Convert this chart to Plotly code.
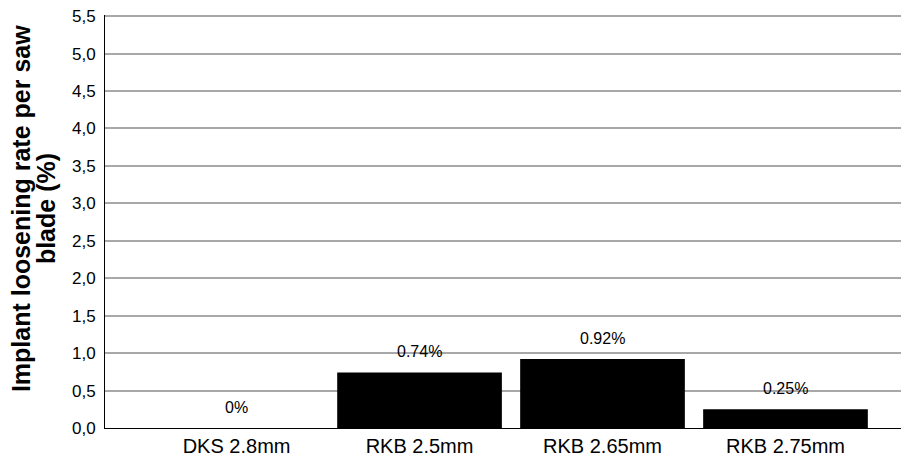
import plotly.graph_objects as go

categories = ["DKS 2.8mm", "RKB 2.5mm", "RKB 2.65mm", "RKB 2.75mm"]
values = [0.0, 0.74, 0.92, 0.25]
value_labels = ["0%", "0.74%", "0.92%", "0.25%"]
y_tickvals = [0.0, 0.5, 1.0, 1.5, 2.0, 2.5, 3.0, 3.5, 4.0, 4.5, 5.0, 5.5]
y_ticktext = ["0,0", "0,5", "1,0", "1,5", "2,0", "2,5", "3,0", "3,5", "4,0", "4,5", "5,0", "5,5"]
title_lines = ["Implant loosening rate per saw", "blade (%)"]

FONT = "Liberation Sans, Arial, sans-serif"

fig = go.Figure()
fig.add_trace(go.Bar(x=list(range(len(categories))), y=values,
                     marker=dict(color="black", line=dict(width=0)),
                     width=0.9, showlegend=False, hoverinfo="skip"))

for i, (v, t) in enumerate(zip(values, value_labels)):
    fig.add_annotation(x=i, y=v, text=t, showarrow=False, yshift=21,
                       xanchor="center", yanchor="middle",
                       font=dict(size=16, color="black", family=FONT),
                       xref="x", yref="y")

for line, xs in zip(title_lines, [-84, -59]):
    fig.add_annotation(x=0, y=0.53, xref="paper", yref="paper", text="<b>" + line + "</b>",
                       textangle=-90, showarrow=False, xshift=xs,
                       xanchor="center", yanchor="middle",
                       font=dict(size=25, color="black", family=FONT))

fig.update_layout(
    width=909, height=456,
    margin=dict(l=97, r=8, t=7, b=36),
    paper_bgcolor="white", plot_bgcolor="white",
    font=dict(family=FONT, color="black"),
    xaxis=dict(range=[-0.719, 3.675], tickmode="array",
               tickvals=list(range(len(categories))), ticktext=categories,
               showgrid=False, zeroline=False, showline=True, linecolor="black",
               linewidth=1, ticks="", automargin=False,
               tickfont=dict(size=20, color="black")),
    yaxis=dict(range=[0, 5.515], tickmode="array", tickvals=y_tickvals, ticktext=y_ticktext,
               showgrid=True, gridcolor="#a8a8a8", gridwidth=1.5, zeroline=False,
               showline=True, linecolor="black", linewidth=1, ticks="",
               ticklabeloverflow="allow", automargin=False,
               tickfont=dict(size=17, color="black"), ticklabelstandoff=5),
)

fig.write_html("out.html")
